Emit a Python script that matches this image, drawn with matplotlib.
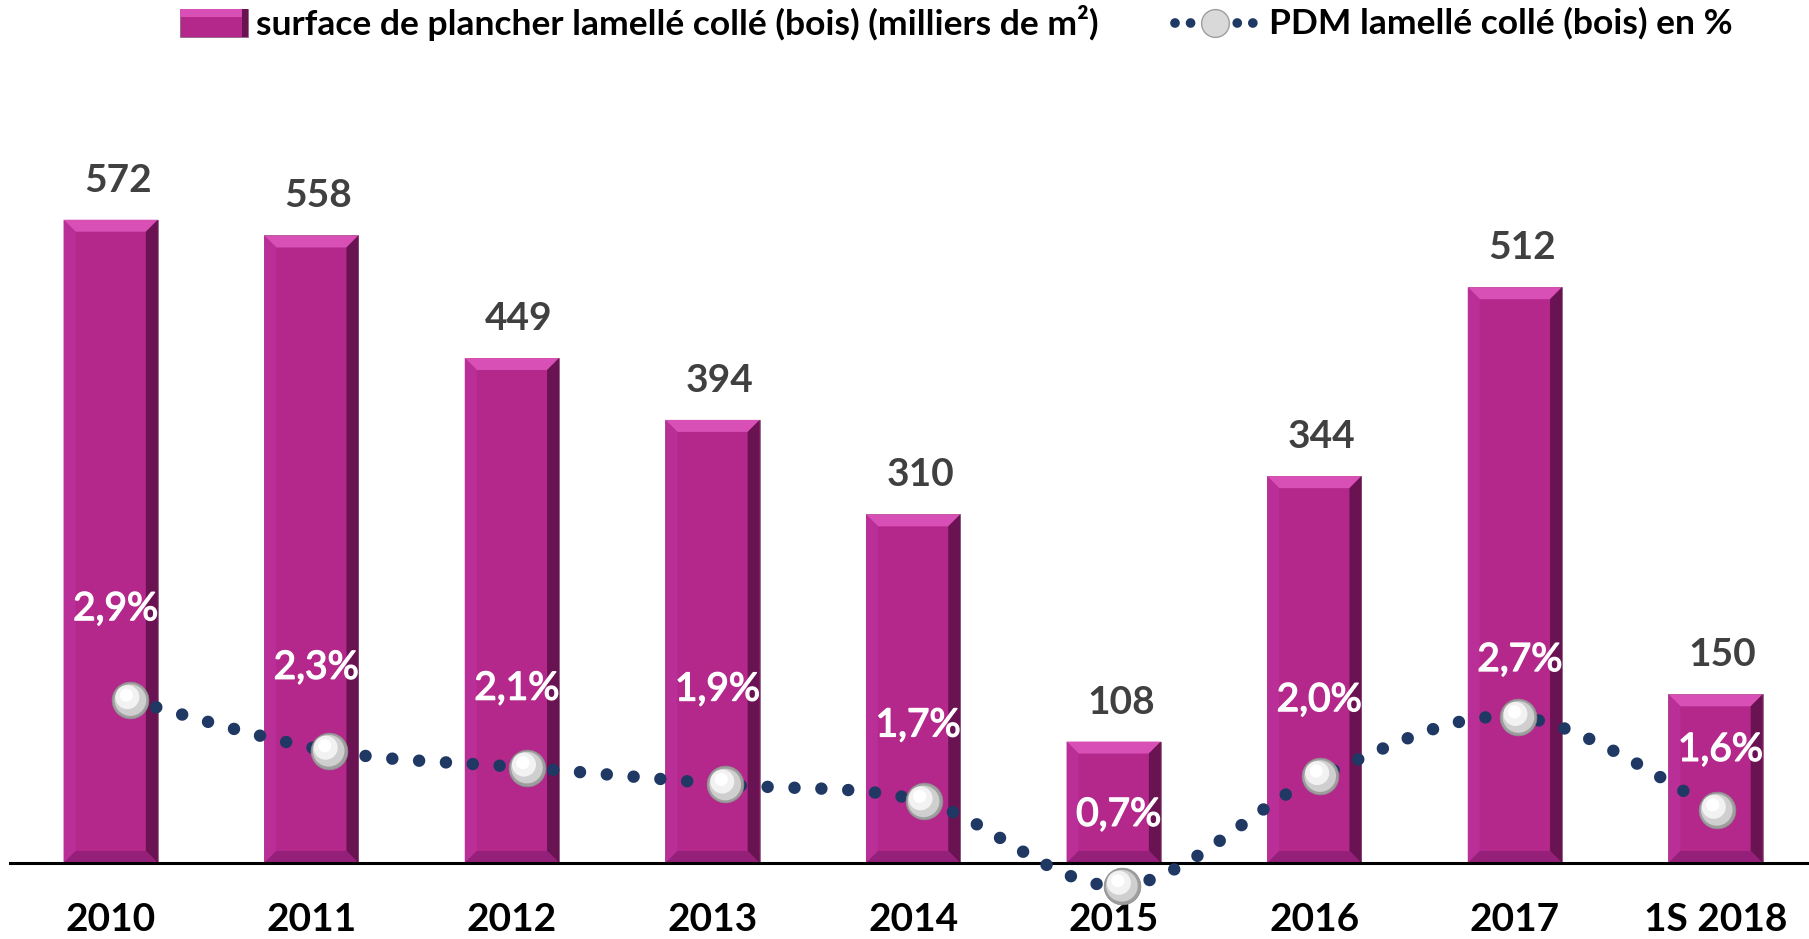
import matplotlib
matplotlib.use("Agg")
import matplotlib.pyplot as plt
import matplotlib.patheffects as pe
import numpy as np
from matplotlib.patches import Polygon, Rectangle
from matplotlib.lines import Line2D
from matplotlib import transforms

# ---------------- data ----------------
categories = ["2010", "2011", "2012", "2013", "2014", "2015", "2016", "2017", "1S 2018"]
surface = [572, 558, 449, 394, 310, 108, 344, 512, 150]
pdm = [2.9, 2.3, 2.1, 1.9, 1.7, 0.7, 2.0, 2.7, 1.6]
pdm_labels = ["2,9%", "2,3%", "2,1%", "1,9%", "1,7%", "0,7%", "2,0%", "2,7%", "1,6%"]

# layout (pixel offsets of the percent labels above the markers)
pct_label_dy = [91, 83, 79, 95, 76, 71, 76, 57, 60]

legend_bar = "surface de plancher lamellé collé (bois) (milliers de m²)"
legend_line = "PDM lamellé collé (bois) en %"

# ---------------- style ----------------
FONT = "Lato"
BAR = "#B4288C"
BEV_TOP = "#D84FB5"
BEV_LEFT = "#BA2E97"
BEV_RIGHT = "#6A1352"
BEV_BOT = "#95207A"
NAVY = "#1F3864"

W, H, DPI = 1809, 939, 100
fig = plt.figure(figsize=(W / DPI, H / DPI), dpi=DPI)
fig.patch.set_facecolor("white")

rect = [10 / W, (H - 863) / H, (W - 10) / W, (863 - 132) / H]
ax = fig.add_axes(rect)
x = np.arange(len(categories))
ax.set_xlim(-0.502, 8.466)
ax.set_ylim(0, 650)
bars = ax.bar(x, surface, width=0.47, color=BAR, edgecolor="#8A6A80", linewidth=0.6, zorder=2)

# bevel faces derived from each bar patch
px_x = ax.transData.transform((1, 0))[0] - ax.transData.transform((0, 0))[0]
px_y = ax.transData.transform((0, 1))[1] - ax.transData.transform((0, 0))[1]
b = 12
bx, by = b / px_x, b / px_y
for r in bars:
    x0, w, h = r.get_x(), r.get_width(), r.get_height()
    x1 = x0 + w
    faces = [
        ([(x0, h), (x1, h), (x1 - bx, h - by), (x0 + bx, h - by)], BEV_TOP),
        ([(x0, 0), (x0 + bx, by), (x0 + bx, h - by), (x0, h)], BEV_LEFT),
        ([(x1, 0), (x1, h), (x1 - bx, h - by), (x1 - bx, by)], BEV_RIGHT),
        ([(x0, 0), (x1, 0), (x1 - bx, by), (x0 + bx, by)], BEV_BOT),
    ]
    for verts, c in faces:
        ax.add_patch(Polygon(verts, closed=True, facecolor=c, edgecolor="none", zorder=2.5))
    ax.annotate(f"{int(h)}", (r.get_x() + w / 2, h), xytext=(7, 28), textcoords="offset pixels",
                ha="center", va="baseline", fontsize=28, fontweight="bold", color="#404040",
                family=FONT, zorder=5)

for s in ["top", "right", "left"]:
    ax.spines[s].set_visible(False)
ax.spines["bottom"].set_linewidth(2.2)
ax.spines["bottom"].set_color("black")
ax.set_yticks([])
ax.set_xticks(x)
ax.set_xticklabels(categories, fontsize=28, fontweight="bold", family=FONT, color="black")
ax.tick_params(axis="x", length=0, pad=28)
ax.patch.set_alpha(0)

# ---------------- line (secondary axes) ----------------
ax2 = fig.add_axes(rect, zorder=3)
ax2.set_xlim(-0.607, 8.465)
ax2.set_ylim(0.97, 9.63)
ax2.axis("off")
ax2.patch.set_alpha(0)

# smooth (Catmull-Rom) rendering of the path through the data points
P = np.column_stack([x, pdm]).astype(float)
Pp = np.vstack([P[0], P, P[-1]])
xs, ys = [], []
for i in range(1, len(Pp) - 2):
    p0, p1, p2, p3 = Pp[i - 1], Pp[i], Pp[i + 1], Pp[i + 2]
    for t in np.linspace(0, 1, 30, endpoint=False):
        t2, t3 = t * t, t * t * t
        pt = 0.5 * ((2 * p1) + (-p0 + p2) * t + (2 * p0 - 5 * p1 + 4 * p2 - p3) * t2
                    + (-p0 + 3 * p1 - 3 * p2 + p3) * t3)
        xs.append(pt[0]); ys.append(pt[1])
xs.append(P[-1, 0]); ys.append(P[-1, 1])
ax2.plot(xs, ys, color=NAVY, lw=9, linestyle=(0, (0.001, 2.15)),
         dash_capstyle="round", clip_on=False, zorder=3)

# sphere-like markers
ax2.scatter(x, pdm, s=700, color="#9E9E9E", edgecolor="#8C8C8C", lw=0.5, zorder=4, clip_on=False)
ax2.scatter(x, pdm, s=520, color="#CFCFCF", edgecolor="none", zorder=4.1, clip_on=False)
hl = transforms.offset_copy(ax2.transData, fig=fig, x=-3, y=3, units="dots")
ax2.scatter(x, pdm, s=300, color="#F2F2F2", edgecolor="none", zorder=4.2, clip_on=False, transform=hl)
hl2 = transforms.offset_copy(ax2.transData, fig=fig, x=-4, y=5, units="dots")
ax2.scatter(x, pdm, s=90, color="white", edgecolor="none", zorder=4.3, clip_on=False, transform=hl2)

# percent labels, centred on the bars
for xi, v, lab, dy in zip(x, pdm, pdm_labels, pct_label_dy):
    disp = ax2.transData.transform((0, v))
    xd = ax.transData.transform((xi, 0))[0]
    ax.annotate(lab, (xd, disp[1]), xycoords="figure pixels", xytext=(5, dy),
                textcoords="offset pixels", ha="center", va="center", fontsize=28,
                color="white", family=FONT, fontweight="normal", zorder=6, annotation_clip=False,
                path_effects=[pe.withStroke(linewidth=1.0, foreground="white")])

# ---------------- legend (manual) ----------------
ly = 1 - 23 / H
lx0, lx1 = 180 / W, 248 / W
fig.patches.append(Rectangle((lx0, ly - 14 / H), lx1 - lx0, 28 / H, transform=fig.transFigure,
                             facecolor=BAR, edgecolor="#8A6A80", lw=0.6))
fig.patches.append(Rectangle((lx0, ly + 6 / H), lx1 - lx0, 8 / H, transform=fig.transFigure,
                             facecolor=BEV_TOP, edgecolor="none"))
fig.patches.append(Rectangle((lx1 - 6 / W, ly - 14 / H), 6 / W, 28 / H, transform=fig.transFigure,
                             facecolor=BEV_RIGHT, edgecolor="none"))
fig.text(256 / W, ly, legend_bar, fontsize=25.5, fontweight="bold", family=FONT,
         va="center", ha="left", color="black")

fig.lines.append(Line2D([1175 / W, 1255 / W], [ly, ly], transform=fig.transFigure, color=NAVY,
                        lw=7, linestyle=(0, (0.001, 1.6)), dash_capstyle="round"))
fig.lines.append(Line2D([1215 / W], [ly], transform=fig.transFigure, marker="o", markersize=20,
                        markerfacecolor="#D9D9D9", markeredgecolor="#9E9E9E", linestyle="none"))
fig.text(1269 / W, ly, legend_line, fontsize=25.5, fontweight="bold", family=FONT,
         va="center", ha="left", color="black")

fig.savefig("out.png", dpi=DPI, facecolor="white")
